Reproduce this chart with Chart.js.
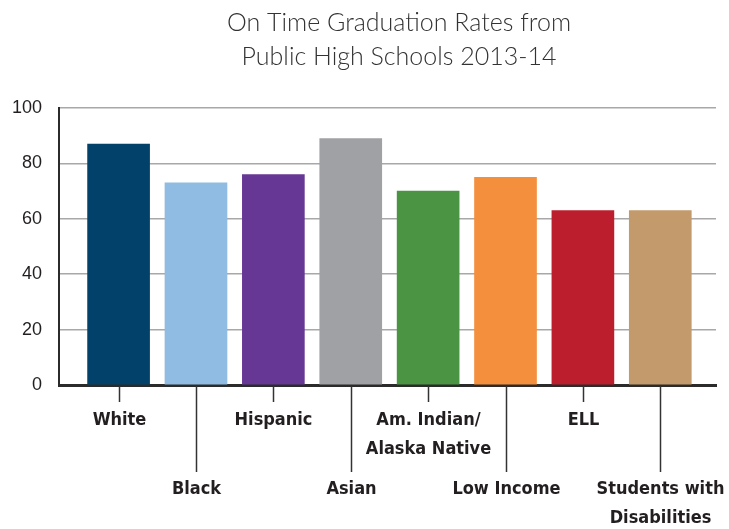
<!DOCTYPE html>
<html>
<head>
<meta charset="utf-8">
<script src="https://cdn.jsdelivr.net/npm/chart.js@4"></script>
<style>
  html, body { margin: 0; padding: 0; background: #fff; }
  #wrap { width: 729px; height: 529px; }
</style>
</head>
<body>
<div id="wrap"><canvas id="myChart" width="729" height="529"></canvas></div>
<script>
const titleLines = ["On Time Graduation Rates from", "Public High Schools 2013-14"];

const groups = ["White", "Black", "Hispanic", "Asian", "Am. Indian/\nAlaska Native", "Low Income", "ELL", "Students with\nDisabilities"];
const rates = [87, 73, 76, 89, 70, 75, 63, 63];
const barColors = ["#02426a", "#90bbe2", "#673795", "#a0a1a5", "#4a9444", "#f48f3d", "#bd1e2d", "#c39a6b"];

const yTicks = [0, 20, 40, 60, 80, 100];

// title drawn by hand, it sits right of the canvas centre
const titlePlugin = {
  id: "titleText",
  afterDraw(chart) {
    const ctx = chart.ctx;
    ctx.save();
    ctx.fillStyle = "#333";
    ctx.font = "300 25px Lato";
    ctx.textAlign = "center";
    ctx.textBaseline = "alphabetic";
    ctx.fillText(titleLines[0], 399, 31);
    ctx.fillText(titleLines[1], 399, 65);
    ctx.restore();
  }
};

// staggered category labels with leader lines
const labelPlugin = {
  id: "staggerLabels",
  afterDraw(chart) {
    const ctx = chart.ctx;
    const xs = chart.scales.x;
    const bottom = chart.chartArea.bottom;
    ctx.save();
    ctx.strokeStyle = "#333";
    ctx.lineWidth = 1.5;
    ctx.fillStyle = "#231f20";
    ctx.font = "bold 18px 'DejaVu Sans Condensed'";
    ctx.textAlign = "center";
    ctx.textBaseline = "middle";
    groups.forEach((g, i) => {
      const x = Math.round(xs.getPixelForValue(i)) + 0.5;
      const low = i % 2 == 1;
      ctx.beginPath();
      ctx.moveTo(x, bottom + 1);
      ctx.lineTo(x, low ? 472 : 402);
      ctx.stroke();
      let y = low ? 489 : 420;
      g.split("\n").forEach((line) => {
        ctx.fillText(line, x, y);
        y += 29;
      });
    });
    ctx.restore();
  }
};

const points = rates.map((v, i) => ({ x: i, y: v }));

const myChart = document.getElementById("myChart");

let barChart = new Chart(myChart, {
  type: "bar",
  data: {
    datasets: [
      {
        data: points,
        backgroundColor: barColors,
        borderWidth: 0,
        barThickness: 62,
      },
    ],
  },
  options: {
    responsive: false,
    animation: false,
    layout: {
      padding: { top: 108, right: 13, left: 0, bottom: 0 },
    },
    plugins: {
      legend: { display: false },
      title: { display: false },
      tooltip: { enabled: false },
    },
    scales: {
      x: {
        type: "linear",
        offset: false,
        min: -0.77,
        max: 7.72,
        grid: { display: false, offset: false },
        border: { display: true, color: "#2b2b2b", width: 3 },
        ticks: { display: false },
        afterFit(scale) { scale.height = 144; },
      },
      y: {
        min: 0,
        max: 100,
        afterBuildTicks(scale) {
          scale.ticks = yTicks.map((v) => ({ value: v }));
        },
        grid: { color: "#a8a8a8", lineWidth: 1.5, drawTicks: false },
        border: { display: true, color: "#2b2b2b", width: 2 },
        ticks: {
          color: "#231f20",
          padding: 17,
          font: { family: "'Liberation Sans'", size: 18 },
        },
        afterFit(scale) { scale.width = 59; },
      },
    },
  },
  plugins: [titlePlugin, labelPlugin],
});
</script>
</body>
</html>
